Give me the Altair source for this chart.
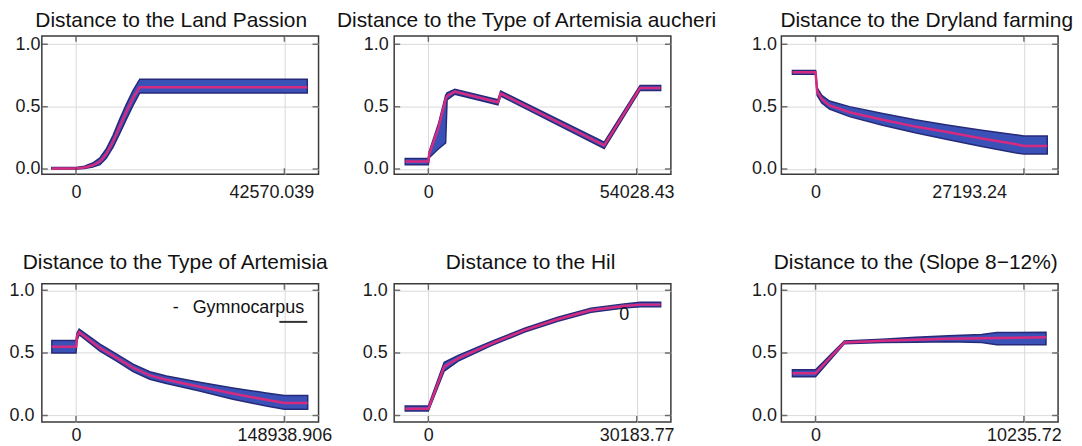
import altair as alt
import pandas as pd

FONT = "Liberation Sans"
BAND = "#3a52b8"
EDGE = "#262a78"
LINE = "#d62a80"
FRAME = "#3a3a3a"

titles = [
    "Distance to the Land Passion",
    "Distance to the Type of Artemisia aucheri",
    "Distance to the Dryland farming",
    "Distance to the Type of Artemisia",
    "Distance to the Hil",
    "Distance to the (Slope 8\u221212%)",
]
maxes = [42570.039, 54028.43, 27193.24, 148938.906, 30183.77, 10235.72]
max_labels = ["42570.039", "54028.43", "27193.24", "148938.906", "30183.77", "10235.72"]
y_ticks = [0.0, 0.5, 1.0]

p1_x = [-4938, 0, 1703, 3406, 4896, 6173, 7577, 8940, 10302, 11664, 13026, 47253]
p1_mean = [0.005, 0.005, 0.012, 0.03, 0.06, 0.12, 0.22, 0.34, 0.46, 0.57, 0.655, 0.655]
p1_hi = [0.012, 0.012, 0.022, 0.048, 0.09, 0.16, 0.27, 0.40, 0.52, 0.63, 0.72, 0.72]
p1_lo = [0.0, 0.0, 0.004, 0.015, 0.035, 0.085, 0.175, 0.285, 0.40, 0.51, 0.61, 0.61]

p2_x = [-5997, 0, 216, 2593, 4484, 4863, 6862, 18045, 18748, 45600, 54893, 60242]
p2_mean = [0.06, 0.06, 0.12, 0.33, 0.56, 0.585, 0.62, 0.535, 0.605, 0.19, 0.65, 0.65]
p2_hi = [0.085, 0.085, 0.14, 0.36, 0.59, 0.61, 0.64, 0.555, 0.625, 0.215, 0.67, 0.67]
p2_lo = [0.035, 0.035, 0.09, 0.16, 0.21, 0.555, 0.60, 0.515, 0.585, 0.165, 0.63, 0.63]

p3_x = [-3018, 0, 218, 816, 1822, 4432, 8756, 12998, 17349, 21700, 26024, 27193, 30239]
p3_mean = [0.775, 0.775, 0.62, 0.56, 0.51, 0.455, 0.395, 0.34, 0.295, 0.245, 0.20, 0.185, 0.185]
p3_hi = [0.79, 0.79, 0.65, 0.59, 0.545, 0.50, 0.445, 0.395, 0.35, 0.31, 0.275, 0.265, 0.265]
p3_lo = [0.76, 0.76, 0.59, 0.53, 0.48, 0.42, 0.35, 0.29, 0.235, 0.18, 0.13, 0.12, 0.12]

p4_x = [-17277, 0, 745, 2234, 17128, 29043, 40809, 52724, 64639, 88321, 112151, 135981, 148939, 165620]
p4_mean = [0.55, 0.55, 0.63, 0.665, 0.54, 0.46, 0.38, 0.32, 0.285, 0.23, 0.175, 0.125, 0.10, 0.10]
p4_hi = [0.60, 0.60, 0.66, 0.69, 0.57, 0.49, 0.41, 0.35, 0.315, 0.265, 0.22, 0.18, 0.16, 0.16]
p4_lo = [0.50, 0.50, 0.60, 0.645, 0.515, 0.435, 0.35, 0.29, 0.255, 0.195, 0.13, 0.075, 0.05, 0.05]

p5_x = [-3350, 0, 2294, 4316, 9116, 13945, 18744, 23543, 28343, 30667, 33655]
p5_mean = [0.053, 0.053, 0.39, 0.456, 0.575, 0.682, 0.769, 0.841, 0.875, 0.886, 0.886]
p5_hi = [0.075, 0.075, 0.425, 0.48, 0.592, 0.697, 0.785, 0.858, 0.892, 0.905, 0.905]
p5_lo = [0.035, 0.035, 0.355, 0.435, 0.558, 0.667, 0.753, 0.824, 0.858, 0.868, 0.868]

p6_x = [-1136, 0, 1413, 3286, 4913, 6530, 8158, 8905, 11321]
p6_mean = [0.337, 0.337, 0.584, 0.597, 0.605, 0.613, 0.618, 0.62, 0.625]
p6_hi = [0.365, 0.365, 0.595, 0.61, 0.625, 0.637, 0.648, 0.663, 0.665]
p6_lo = [0.31, 0.31, 0.573, 0.583, 0.585, 0.59, 0.583, 0.566, 0.565]

# annotations
gym_x = [69108, 83406]
gym_y = [0.862, 0.862]
gym_t = ["-", "Gymnocarpus"]
gym_rule_x = [145364]
gym_rule_x2 = [165322]
gym_rule_y = [0.748]
hil_x = [28373]
hil_y = [0.80]
hil_t = ["0"]

W = 278
H = 139


def panel(i, xs, mean, lo, hi, ydom, lab_pad_y, lab_pad_x, t_dy, t_dx, max_off, extras=()):
    M = maxes[i]
    xscale = alt.Scale(domain=[-0.164 * M, 1.164 * M], nice=False, zero=False)
    yscale = alt.Scale(domain=ydom, nice=False, zero=False)
    df = pd.DataFrame({"x": xs, "mean": mean, "lo": lo, "hi": hi})
    xaxis = alt.Axis(
        values=[0, M],
        labelExpr=f"datum.value == 0 ? '0' : '{max_labels[i]}'",
        title=None, ticks=False, grid=True, domain=False,
        labelPadding=lab_pad_x, labelFlush=False, labelOverlap=False,
        labelOffset={"condition": {"test": "datum.value > 0", "value": max_off}, "value": 0},
    )
    yaxis = alt.Axis(
        values=y_ticks, format=".1f", title=None, ticks=False, grid=True,
        domain=False, labelPadding=lab_pad_y,
    )

    def X(f):
        return alt.X(f, scale=xscale, axis=xaxis)

    def Y(f):
        return alt.Y(f, scale=yscale, axis=yaxis)

    base = alt.Chart(df)
    band = base.mark_area(color=BAND, stroke=EDGE, strokeWidth=1.5, clip=True).encode(
        x=X("x:Q"), y=Y("lo:Q"), y2="hi:Q",
    )
    line = base.mark_line(color=LINE, strokeWidth=2.5, clip=True).encode(
        x=X("x:Q"), y=Y("mean:Q"),
    )
    xt = pd.DataFrame({"t": [0, M]})
    yt = pd.DataFrame({"t": y_ticks})
    tk = dict(color=FRAME, size=12, thickness=1.5, clip=True)
    xt_b = alt.Chart(xt).mark_tick(orient="vertical", **tk).encode(x=X("t:Q"), y=alt.value(H))
    xt_t = alt.Chart(xt).mark_tick(orient="vertical", **tk).encode(x=X("t:Q"), y=alt.value(0))
    yt_l = alt.Chart(yt).mark_tick(orient="horizontal", **tk).encode(y=Y("t:Q"), x=alt.value(0))
    yt_r = alt.Chart(yt).mark_tick(orient="horizontal", **tk).encode(y=Y("t:Q"), x=alt.value(W))
    layers = [band, line, xt_b, xt_t, yt_l, yt_r]
    for ex in extras:
        layers.extend(ex(X, Y))
    return alt.layer(*layers).properties(
        width=W, height=H,
        title=alt.TitleParams(
            text=titles[i], font=FONT, fontSize=21, fontWeight="normal",
            color="#111111", anchor="middle", frame="group",
            baseline="alphabetic", offset=0, dx=t_dx, dy=t_dy,
        ),
    )


def gym_layer(X, Y):
    df = pd.DataFrame({"x": gym_x, "y": gym_y, "t": gym_t})
    txt = alt.Chart(df).mark_text(
        align="left", baseline="middle", font=FONT, fontSize=18, color="#111111"
    ).encode(x=X("x:Q"), y=Y("y:Q"), text="t:N")
    rdf = pd.DataFrame({"x": gym_rule_x, "x2": gym_rule_x2, "y": gym_rule_y})
    rule = alt.Chart(rdf).mark_rule(color="#333333", strokeWidth=2).encode(
        x=X("x:Q"), x2="x2:Q", y=Y("y:Q"),
    )
    return [txt, rule]


def hil_layer(X, Y):
    df = pd.DataFrame({"x": hil_x, "y": hil_y, "t": hil_t})
    return [alt.Chart(df).mark_text(
        align="center", baseline="middle", font=FONT, fontSize=18, color="#111111"
    ).encode(x=X("x:Q"), y=Y("y:Q"), text="t:N")]


def spacer(w):
    return alt.Chart(pd.DataFrame({"s": [0]})).mark_point(opacity=0).encode(
        x=alt.X("s:Q", axis=None), y=alt.Y("s:Q", axis=None)
    ).properties(width=w, height=H, view=alt.ViewBackground(stroke="transparent"))


Y1 = [-0.042, 1.067]
Y2 = [-0.053, 1.053]

c1 = panel(0, p1_x, p1_mean, p1_lo, p1_hi, Y1, 2, 9, 13, -9, -13)
c2 = panel(1, p2_x, p2_mean, p2_lo, p2_hi, Y1, 6, 9, 13, -6, 0)
c3 = panel(2, p3_x, p3_mean, p3_lo, p3_hi, Y1, 5, 9, 13, 7, -55)
c4 = panel(3, p4_x, p4_mean, p4_lo, p4_hi, Y2, 8, 4, 9, -5, 0, extras=(gym_layer,))
c5 = panel(4, p5_x, p5_mean, p5_lo, p5_hi, Y2, 7, 4, 9, -2, 0, extras=(hil_layer,))
c6 = panel(5, p6_x, p6_mean, p6_lo, p6_hi, Y2, 5, 5, 9, -4, 0)

chart = alt.concat(
    c1, spacer(76), c2, spacer(111), c3,
    c4, spacer(76), c5, spacer(111), c6,
    columns=5, spacing={"row": 110, "column": 0}, bounds="flush",
).properties(
    padding={"left": 0, "top": 0, "right": 0, "bottom": 0},
    background="white",
).configure_view(
    stroke=FRAME, strokeWidth=1.5
).configure_axis(
    labelFont=FONT, labelFontSize=18, labelColor="#1a1a1a",
    gridColor="#d9d9d9", gridWidth=1,
)

chart.save("out.html", embed_options={"renderer": "svg", "actions": False})
